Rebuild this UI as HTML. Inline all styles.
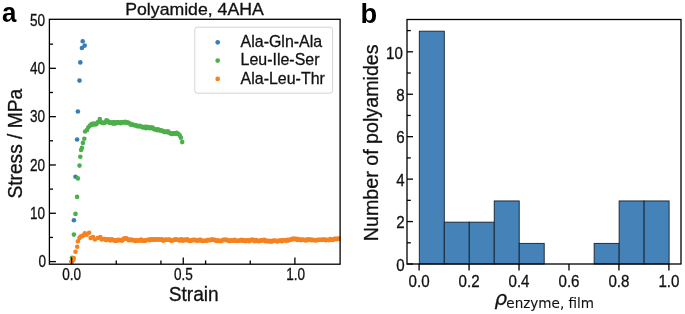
<!DOCTYPE html>
<html><head><meta charset="utf-8"><title>Figure</title><style>html,body{margin:0;padding:0;background:#fff}svg{display:block;will-change:transform}</style></head><body>
<svg width="685" height="314" viewBox="0 0 685 314" font-family="Liberation Sans, Arial, Helvetica, sans-serif">
<rect width="685" height="314" fill="#fff"/>
<clipPath id="ca"><rect x="49.4" y="19.3" width="290.70000000000005" height="244.89999999999998"/></clipPath>
<g clip-path="url(#ca)">
<g fill="#377eb8"><circle cx="71.7" cy="261.5" r="2.3"/><circle cx="73.9" cy="220.2" r="2.3"/><circle cx="75.5" cy="176.8" r="2.3"/><circle cx="77.1" cy="139.5" r="2.3"/><circle cx="77.9" cy="111.5" r="2.3"/><circle cx="79.5" cy="80.6" r="2.3"/><circle cx="80.3" cy="62.4" r="2.3"/><circle cx="81.9" cy="48.0" r="2.3"/><circle cx="82.7" cy="41.2" r="2.3"/><circle cx="84.7" cy="45.6" r="2.3"/></g>
<g fill="#4daf4a"><circle cx="71.7" cy="261.5" r="2.3"/><circle cx="72.0" cy="257.7" r="2.3"/><circle cx="73.9" cy="234.6" r="2.3"/><circle cx="75.5" cy="213.9" r="2.3"/><circle cx="77.1" cy="196.9" r="2.3"/><circle cx="77.9" cy="178.4" r="2.3"/><circle cx="79.5" cy="165.6" r="2.3"/><circle cx="80.3" cy="156.7" r="2.3"/><circle cx="81.1" cy="150.0" r="2.3"/><circle cx="81.9" cy="147.9" r="2.3"/><circle cx="82.9" cy="142.9" r="2.3"/><circle cx="84.3" cy="138.7" r="2.3"/><circle cx="85.1" cy="131.5" r="2.3"/><circle cx="87.1" cy="129.9" r="2.3"/><circle cx="88.4" cy="127.2" r="2.3"/><circle cx="90.0" cy="125.6" r="2.3"/><circle cx="91.0" cy="124.9" r="2.3"/><circle cx="92.1" cy="123.9" r="2.3"/><circle cx="93.2" cy="124.6" r="2.3"/><circle cx="94.3" cy="123.6" r="2.3"/><circle cx="95.4" cy="124.4" r="2.3"/><circle cx="96.5" cy="124.0" r="2.3"/><circle cx="97.6" cy="122.4" r="2.3"/><circle cx="98.7" cy="121.7" r="2.3"/><circle cx="99.8" cy="119.1" r="2.3"/><circle cx="100.9" cy="122.2" r="2.3"/><circle cx="102.0" cy="122.6" r="2.3"/><circle cx="103.1" cy="123.1" r="2.3"/><circle cx="104.2" cy="122.8" r="2.3"/><circle cx="105.3" cy="122.6" r="2.3"/><circle cx="106.4" cy="120.2" r="2.3"/><circle cx="107.5" cy="120.7" r="2.3"/><circle cx="108.6" cy="122.1" r="2.3"/><circle cx="109.7" cy="122.9" r="2.3"/><circle cx="110.8" cy="122.6" r="2.3"/><circle cx="111.9" cy="122.4" r="2.3"/><circle cx="113.0" cy="123.6" r="2.3"/><circle cx="114.1" cy="122.0" r="2.3"/><circle cx="115.2" cy="123.6" r="2.3"/><circle cx="116.3" cy="122.6" r="2.3"/><circle cx="117.4" cy="122.4" r="2.3"/><circle cx="118.5" cy="122.4" r="2.3"/><circle cx="119.6" cy="122.7" r="2.3"/><circle cx="120.7" cy="123.3" r="2.3"/><circle cx="121.8" cy="122.0" r="2.3"/><circle cx="122.9" cy="122.5" r="2.3"/><circle cx="124.0" cy="122.4" r="2.3"/><circle cx="125.1" cy="121.9" r="2.3"/><circle cx="126.2" cy="122.7" r="2.3"/><circle cx="127.3" cy="122.2" r="2.3"/><circle cx="128.4" cy="122.7" r="2.3"/><circle cx="129.5" cy="123.3" r="2.3"/><circle cx="130.6" cy="124.6" r="2.3"/><circle cx="131.7" cy="124.5" r="2.3"/><circle cx="132.8" cy="124.6" r="2.3"/><circle cx="133.9" cy="125.3" r="2.3"/><circle cx="135.0" cy="125.3" r="2.3"/><circle cx="136.1" cy="125.3" r="2.3"/><circle cx="137.2" cy="126.3" r="2.3"/><circle cx="138.3" cy="126.3" r="2.3"/><circle cx="139.4" cy="125.7" r="2.3"/><circle cx="140.5" cy="126.5" r="2.3"/><circle cx="141.6" cy="126.5" r="2.3"/><circle cx="142.7" cy="127.4" r="2.3"/><circle cx="143.8" cy="127.3" r="2.3"/><circle cx="144.9" cy="126.7" r="2.3"/><circle cx="146.0" cy="128.2" r="2.3"/><circle cx="147.1" cy="126.8" r="2.3"/><circle cx="148.2" cy="127.5" r="2.3"/><circle cx="149.3" cy="128.3" r="2.3"/><circle cx="150.4" cy="127.4" r="2.3"/><circle cx="151.5" cy="128.2" r="2.3"/><circle cx="152.6" cy="127.5" r="2.3"/><circle cx="153.7" cy="128.9" r="2.3"/><circle cx="154.8" cy="129.4" r="2.3"/><circle cx="155.9" cy="129.3" r="2.3"/><circle cx="157.0" cy="130.1" r="2.3"/><circle cx="158.1" cy="129.4" r="2.3"/><circle cx="159.2" cy="130.3" r="2.3"/><circle cx="160.3" cy="130.4" r="2.3"/><circle cx="161.4" cy="130.6" r="2.3"/><circle cx="162.5" cy="130.7" r="2.3"/><circle cx="163.6" cy="131.6" r="2.3"/><circle cx="164.7" cy="132.1" r="2.3"/><circle cx="165.8" cy="131.5" r="2.3"/><circle cx="166.9" cy="132.1" r="2.3"/><circle cx="168.0" cy="131.3" r="2.3"/><circle cx="169.1" cy="132.8" r="2.3"/><circle cx="170.2" cy="133.0" r="2.3"/><circle cx="171.3" cy="133.9" r="2.3"/><circle cx="172.4" cy="133.9" r="2.3"/><circle cx="173.5" cy="133.3" r="2.3"/><circle cx="174.6" cy="133.4" r="2.3"/><circle cx="175.7" cy="133.8" r="2.3"/><circle cx="176.8" cy="132.9" r="2.3"/><circle cx="177.9" cy="134.0" r="2.3"/><circle cx="178.5" cy="134.0" r="2.3"/><circle cx="179.8" cy="135.5" r="2.3"/><circle cx="180.9" cy="137.7" r="2.3"/><circle cx="182.2" cy="142.1" r="2.3"/></g>
<g fill="#f58220"><circle cx="71.7" cy="261.5" r="2.3"/><circle cx="73.4" cy="259.9" r="2.3"/><circle cx="73.7" cy="258.0" r="2.3"/><circle cx="75.5" cy="251.8" r="2.3"/><circle cx="77.2" cy="246.8" r="2.3"/><circle cx="78.0" cy="241.2" r="2.3"/><circle cx="79.5" cy="238.0" r="2.3"/><circle cx="80.5" cy="236.6" r="2.3"/><circle cx="82.4" cy="236.1" r="2.3"/><circle cx="83.5" cy="235.2" r="2.3"/><circle cx="84.8" cy="233.2" r="2.3"/><circle cx="86.7" cy="234.7" r="2.3"/><circle cx="89.1" cy="232.7" r="2.3"/><circle cx="90.6" cy="238.0" r="2.3"/><circle cx="93.0" cy="237.1" r="2.3"/><circle cx="94.9" cy="239.5" r="2.3"/><circle cx="97.8" cy="238.0" r="2.3"/><circle cx="100.2" cy="237.1" r="2.3"/><circle cx="101.6" cy="239.5" r="2.3"/><circle cx="102.6" cy="239.0" r="2.3"/><circle cx="103.7" cy="239.0" r="2.3"/><circle cx="104.8" cy="239.0" r="2.3"/><circle cx="105.9" cy="240.1" r="2.3"/><circle cx="107.0" cy="239.2" r="2.3"/><circle cx="108.1" cy="239.4" r="2.3"/><circle cx="109.2" cy="239.7" r="2.3"/><circle cx="110.3" cy="240.4" r="2.3"/><circle cx="111.4" cy="239.3" r="2.3"/><circle cx="112.5" cy="239.9" r="2.3"/><circle cx="113.6" cy="240.1" r="2.3"/><circle cx="114.7" cy="240.6" r="2.3"/><circle cx="115.8" cy="240.6" r="2.3"/><circle cx="116.9" cy="240.7" r="2.3"/><circle cx="118.0" cy="239.9" r="2.3"/><circle cx="119.1" cy="240.1" r="2.3"/><circle cx="120.2" cy="240.0" r="2.3"/><circle cx="121.3" cy="240.5" r="2.3"/><circle cx="122.4" cy="240.4" r="2.3"/><circle cx="123.5" cy="238.9" r="2.3"/><circle cx="124.6" cy="238.6" r="2.3"/><circle cx="125.7" cy="238.4" r="2.3"/><circle cx="126.8" cy="238.6" r="2.3"/><circle cx="127.9" cy="239.5" r="2.3"/><circle cx="129.0" cy="240.2" r="2.3"/><circle cx="130.1" cy="239.9" r="2.3"/><circle cx="131.2" cy="239.5" r="2.3"/><circle cx="132.3" cy="240.2" r="2.3"/><circle cx="133.4" cy="240.1" r="2.3"/><circle cx="134.5" cy="240.4" r="2.3"/><circle cx="135.6" cy="240.9" r="2.3"/><circle cx="136.7" cy="240.5" r="2.3"/><circle cx="137.8" cy="240.2" r="2.3"/><circle cx="138.9" cy="240.4" r="2.3"/><circle cx="140.0" cy="240.5" r="2.3"/><circle cx="141.1" cy="239.5" r="2.3"/><circle cx="142.2" cy="240.8" r="2.3"/><circle cx="143.3" cy="240.6" r="2.3"/><circle cx="144.4" cy="240.7" r="2.3"/><circle cx="145.5" cy="240.6" r="2.3"/><circle cx="146.6" cy="240.0" r="2.3"/><circle cx="147.7" cy="240.0" r="2.3"/><circle cx="148.8" cy="239.5" r="2.3"/><circle cx="149.9" cy="240.3" r="2.3"/><circle cx="151.0" cy="239.4" r="2.3"/><circle cx="152.1" cy="239.4" r="2.3"/><circle cx="153.2" cy="239.6" r="2.3"/><circle cx="154.3" cy="239.5" r="2.3"/><circle cx="155.4" cy="239.8" r="2.3"/><circle cx="156.5" cy="239.4" r="2.3"/><circle cx="157.6" cy="239.3" r="2.3"/><circle cx="158.7" cy="239.5" r="2.3"/><circle cx="159.8" cy="239.4" r="2.3"/><circle cx="160.9" cy="239.8" r="2.3"/><circle cx="162.0" cy="239.3" r="2.3"/><circle cx="163.1" cy="240.6" r="2.3"/><circle cx="164.2" cy="240.2" r="2.3"/><circle cx="165.3" cy="239.5" r="2.3"/><circle cx="166.4" cy="239.7" r="2.3"/><circle cx="167.5" cy="239.8" r="2.3"/><circle cx="168.6" cy="239.8" r="2.3"/><circle cx="169.7" cy="239.5" r="2.3"/><circle cx="170.8" cy="240.6" r="2.3"/><circle cx="171.9" cy="240.8" r="2.3"/><circle cx="173.0" cy="240.0" r="2.3"/><circle cx="174.1" cy="240.0" r="2.3"/><circle cx="175.2" cy="239.4" r="2.3"/><circle cx="176.3" cy="239.5" r="2.3"/><circle cx="177.4" cy="239.8" r="2.3"/><circle cx="178.5" cy="239.7" r="2.3"/><circle cx="179.6" cy="240.6" r="2.3"/><circle cx="180.7" cy="239.6" r="2.3"/><circle cx="181.8" cy="239.4" r="2.3"/><circle cx="182.9" cy="240.8" r="2.3"/><circle cx="184.0" cy="240.1" r="2.3"/><circle cx="185.1" cy="239.6" r="2.3"/><circle cx="186.2" cy="240.2" r="2.3"/><circle cx="187.3" cy="239.4" r="2.3"/><circle cx="188.4" cy="240.2" r="2.3"/><circle cx="189.5" cy="240.9" r="2.3"/><circle cx="190.6" cy="240.7" r="2.3"/><circle cx="191.7" cy="240.4" r="2.3"/><circle cx="192.8" cy="239.8" r="2.3"/><circle cx="193.9" cy="240.0" r="2.3"/><circle cx="195.0" cy="239.7" r="2.3"/><circle cx="196.1" cy="240.6" r="2.3"/><circle cx="197.2" cy="240.2" r="2.3"/><circle cx="198.3" cy="240.6" r="2.3"/><circle cx="199.4" cy="239.9" r="2.3"/><circle cx="200.5" cy="239.8" r="2.3"/><circle cx="201.6" cy="240.7" r="2.3"/><circle cx="202.7" cy="241.0" r="2.3"/><circle cx="203.8" cy="240.8" r="2.3"/><circle cx="204.9" cy="240.7" r="2.3"/><circle cx="206.0" cy="240.7" r="2.3"/><circle cx="207.1" cy="240.6" r="2.3"/><circle cx="208.2" cy="239.8" r="2.3"/><circle cx="209.3" cy="240.3" r="2.3"/><circle cx="210.4" cy="240.1" r="2.3"/><circle cx="211.5" cy="239.6" r="2.3"/><circle cx="212.6" cy="239.6" r="2.3"/><circle cx="213.7" cy="240.0" r="2.3"/><circle cx="214.8" cy="239.9" r="2.3"/><circle cx="215.9" cy="240.6" r="2.3"/><circle cx="217.0" cy="241.0" r="2.3"/><circle cx="218.1" cy="240.2" r="2.3"/><circle cx="219.2" cy="241.0" r="2.3"/><circle cx="220.3" cy="241.0" r="2.3"/><circle cx="221.4" cy="241.0" r="2.3"/><circle cx="222.5" cy="240.1" r="2.3"/><circle cx="223.6" cy="239.9" r="2.3"/><circle cx="224.7" cy="239.9" r="2.3"/><circle cx="225.8" cy="239.9" r="2.3"/><circle cx="226.9" cy="239.9" r="2.3"/><circle cx="228.0" cy="240.5" r="2.3"/><circle cx="229.1" cy="240.9" r="2.3"/><circle cx="230.2" cy="240.9" r="2.3"/><circle cx="231.3" cy="240.3" r="2.3"/><circle cx="232.4" cy="240.6" r="2.3"/><circle cx="233.5" cy="240.8" r="2.3"/><circle cx="234.6" cy="239.7" r="2.3"/><circle cx="235.7" cy="240.6" r="2.3"/><circle cx="236.8" cy="241.0" r="2.3"/><circle cx="237.9" cy="240.8" r="2.3"/><circle cx="239.0" cy="240.7" r="2.3"/><circle cx="240.1" cy="240.3" r="2.3"/><circle cx="241.2" cy="239.9" r="2.3"/><circle cx="242.3" cy="240.8" r="2.3"/><circle cx="243.4" cy="240.1" r="2.3"/><circle cx="244.5" cy="240.8" r="2.3"/><circle cx="245.6" cy="241.1" r="2.3"/><circle cx="246.7" cy="240.2" r="2.3"/><circle cx="247.8" cy="240.2" r="2.3"/><circle cx="248.9" cy="241.1" r="2.3"/><circle cx="250.0" cy="240.7" r="2.3"/><circle cx="251.1" cy="239.9" r="2.3"/><circle cx="252.2" cy="239.9" r="2.3"/><circle cx="253.3" cy="239.9" r="2.3"/><circle cx="254.4" cy="241.1" r="2.3"/><circle cx="255.5" cy="240.9" r="2.3"/><circle cx="256.6" cy="240.0" r="2.3"/><circle cx="257.7" cy="241.0" r="2.3"/><circle cx="258.8" cy="241.2" r="2.3"/><circle cx="259.9" cy="240.8" r="2.3"/><circle cx="261.0" cy="240.3" r="2.3"/><circle cx="262.1" cy="240.6" r="2.3"/><circle cx="263.2" cy="240.0" r="2.3"/><circle cx="264.3" cy="239.9" r="2.3"/><circle cx="265.4" cy="241.3" r="2.3"/><circle cx="266.5" cy="240.9" r="2.3"/><circle cx="267.6" cy="240.8" r="2.3"/><circle cx="268.7" cy="241.5" r="2.3"/><circle cx="269.8" cy="240.8" r="2.3"/><circle cx="270.9" cy="241.5" r="2.3"/><circle cx="272.0" cy="241.5" r="2.3"/><circle cx="273.1" cy="240.6" r="2.3"/><circle cx="274.2" cy="240.8" r="2.3"/><circle cx="275.3" cy="240.9" r="2.3"/><circle cx="276.4" cy="240.9" r="2.3"/><circle cx="277.5" cy="241.4" r="2.3"/><circle cx="278.6" cy="240.7" r="2.3"/><circle cx="279.7" cy="240.8" r="2.3"/><circle cx="280.8" cy="240.2" r="2.3"/><circle cx="281.9" cy="241.2" r="2.3"/><circle cx="283.0" cy="240.3" r="2.3"/><circle cx="284.1" cy="240.3" r="2.3"/><circle cx="285.2" cy="240.3" r="2.3"/><circle cx="286.3" cy="240.7" r="2.3"/><circle cx="287.4" cy="239.8" r="2.3"/><circle cx="288.5" cy="240.4" r="2.3"/><circle cx="289.6" cy="239.7" r="2.3"/><circle cx="290.7" cy="239.6" r="2.3"/><circle cx="291.8" cy="239.5" r="2.3"/><circle cx="292.9" cy="238.6" r="2.3"/><circle cx="294.0" cy="239.3" r="2.3"/><circle cx="295.1" cy="238.9" r="2.3"/><circle cx="296.2" cy="238.7" r="2.3"/><circle cx="297.3" cy="240.0" r="2.3"/><circle cx="298.4" cy="239.1" r="2.3"/><circle cx="299.5" cy="239.6" r="2.3"/><circle cx="300.6" cy="240.1" r="2.3"/><circle cx="301.7" cy="239.9" r="2.3"/><circle cx="302.8" cy="239.6" r="2.3"/><circle cx="303.9" cy="240.0" r="2.3"/><circle cx="305.0" cy="240.1" r="2.3"/><circle cx="306.1" cy="240.4" r="2.3"/><circle cx="307.2" cy="239.4" r="2.3"/><circle cx="308.3" cy="240.0" r="2.3"/><circle cx="309.4" cy="239.6" r="2.3"/><circle cx="310.5" cy="239.6" r="2.3"/><circle cx="311.6" cy="240.3" r="2.3"/><circle cx="312.7" cy="239.9" r="2.3"/><circle cx="313.8" cy="240.0" r="2.3"/><circle cx="314.9" cy="240.3" r="2.3"/><circle cx="316.0" cy="240.5" r="2.3"/><circle cx="317.1" cy="239.8" r="2.3"/><circle cx="318.2" cy="240.0" r="2.3"/><circle cx="319.3" cy="239.8" r="2.3"/><circle cx="320.4" cy="239.8" r="2.3"/><circle cx="321.5" cy="240.0" r="2.3"/><circle cx="322.6" cy="239.6" r="2.3"/><circle cx="323.7" cy="239.7" r="2.3"/><circle cx="324.8" cy="239.6" r="2.3"/><circle cx="325.9" cy="240.2" r="2.3"/><circle cx="327.0" cy="239.8" r="2.3"/><circle cx="328.1" cy="240.0" r="2.3"/><circle cx="329.2" cy="240.1" r="2.3"/><circle cx="330.3" cy="239.0" r="2.3"/><circle cx="331.4" cy="239.5" r="2.3"/><circle cx="332.5" cy="240.0" r="2.3"/><circle cx="333.6" cy="239.8" r="2.3"/><circle cx="334.7" cy="238.8" r="2.3"/><circle cx="335.8" cy="238.7" r="2.3"/><circle cx="336.9" cy="239.2" r="2.3"/><circle cx="338.0" cy="238.6" r="2.3"/><circle cx="339.1" cy="238.8" r="2.3"/><circle cx="340.2" cy="238.6" r="2.3"/></g>
</g>
<g stroke="#000" stroke-width="1.3" fill="none">
<rect x="49.4" y="19.3" width="290.70000000000005" height="244.89999999999998"/>
<line x1="49.4" y1="261.60" x2="55.9" y2="261.60"/>
<line x1="49.4" y1="237.44" x2="53.0" y2="237.44"/>
<line x1="49.4" y1="213.28" x2="55.9" y2="213.28"/>
<line x1="49.4" y1="189.12" x2="53.0" y2="189.12"/>
<line x1="49.4" y1="164.96" x2="55.9" y2="164.96"/>
<line x1="49.4" y1="140.80" x2="53.0" y2="140.80"/>
<line x1="49.4" y1="116.64" x2="55.9" y2="116.64"/>
<line x1="49.4" y1="92.48" x2="53.0" y2="92.48"/>
<line x1="49.4" y1="68.32" x2="55.9" y2="68.32"/>
<line x1="49.4" y1="44.16" x2="53.0" y2="44.16"/>
<line x1="71.60" y1="264.2" x2="71.60" y2="257.4"/>
<line x1="183.25" y1="264.2" x2="183.25" y2="257.4"/>
<line x1="294.90" y1="264.2" x2="294.90" y2="257.4"/>
<line x1="116.26" y1="264.2" x2="116.26" y2="260.4"/>
<line x1="160.92" y1="264.2" x2="160.92" y2="260.4"/>
<line x1="205.58" y1="264.2" x2="205.58" y2="260.4"/>
<line x1="250.24" y1="264.2" x2="250.24" y2="260.4"/>
</g>
<text transform="translate(46.00,267.30) scale(0.87,1)" font-size="15.6" text-anchor="end" fill="#111" stroke="#111" stroke-width="0.3" >0</text>
<text transform="translate(45.10,218.98) scale(0.87,1)" font-size="15.6" text-anchor="end" fill="#111" stroke="#111" stroke-width="0.3" >10</text>
<text transform="translate(45.10,170.66) scale(0.87,1)" font-size="15.6" text-anchor="end" fill="#111" stroke="#111" stroke-width="0.3" >20</text>
<text transform="translate(45.10,122.34) scale(0.87,1)" font-size="15.6" text-anchor="end" fill="#111" stroke="#111" stroke-width="0.3" >30</text>
<text transform="translate(45.10,74.02) scale(0.87,1)" font-size="15.6" text-anchor="end" fill="#111" stroke="#111" stroke-width="0.3" >40</text>
<text transform="translate(45.10,25.70) scale(0.87,1)" font-size="15.6" text-anchor="end" fill="#111" stroke="#111" stroke-width="0.3" >50</text>
<text transform="translate(71.70,280.00) scale(0.87,1)" font-size="15.6" text-anchor="middle" fill="#111" stroke="#111" stroke-width="0.3" >0.0</text>
<text transform="translate(183.35,280.00) scale(0.87,1)" font-size="15.6" text-anchor="middle" fill="#111" stroke="#111" stroke-width="0.3" >0.5</text>
<text transform="translate(295.60,280.00) scale(0.87,1)" font-size="15.6" text-anchor="middle" fill="#111" stroke="#111" stroke-width="0.3" >1.0</text>
<text transform="translate(193.70,300.60) scale(0.945,1)" font-size="20.3" text-anchor="middle" fill="#111" stroke="#111" stroke-width="0.3" >Strain</text>
<text transform="translate(22.3,143.7) rotate(-90) scale(0.945,1)" font-size="20.3" text-anchor="middle" fill="#111" stroke="#111" stroke-width="0.3">Stress / MPa</text>
<text x="194.5" y="14.8" font-size="16.4" text-anchor="middle" fill="#111" stroke="#111" stroke-width="0.3" textLength="138.5" lengthAdjust="spacingAndGlyphs">Polyamide, 4AHA</text>
<text transform="translate(1.9,22.3) scale(0.96,1)" font-size="27" font-weight="bold" fill="#000">a</text>
<text x="360.4" y="22.6" font-size="27.3" font-weight="bold" fill="#000">b</text>
<rect x="194.8" y="27.2" width="137.8" height="66" rx="2.5" ry="2.5" fill="#fff" fill-opacity="0.8" stroke="#d4d4d4" stroke-width="1"/>
<circle cx="217.7" cy="42.3" r="2.35" fill="#377eb8"/>
<text transform="translate(240.60,47.10) scale(0.95,1)" font-size="16.8" text-anchor="start" fill="#111" stroke="#111" stroke-width="0.3" >Ala-Gln-Ala</text>
<circle cx="217.7" cy="60.6" r="2.35" fill="#4daf4a"/>
<text transform="translate(240.60,65.40) scale(0.95,1)" font-size="16.8" text-anchor="start" fill="#111" stroke="#111" stroke-width="0.3" >Leu-Ile-Ser</text>
<circle cx="217.7" cy="78.9" r="2.35" fill="#f58220"/>
<text transform="translate(240.60,83.70) scale(0.95,1)" font-size="16.8" text-anchor="start" fill="#111" stroke="#111" stroke-width="0.3" >Ala-Leu-Thr</text>
<g fill="#4482b8" stroke="#14202e" stroke-width="0.9">
<rect x="419.30" y="31.18" width="24.98" height="232.82"/>
<rect x="444.28" y="222.16" width="24.98" height="41.84"/>
<rect x="469.26" y="222.16" width="24.98" height="41.84"/>
<rect x="494.24" y="200.94" width="24.98" height="63.06"/>
<rect x="519.22" y="243.38" width="24.98" height="20.62"/>
<rect x="594.16" y="243.38" width="24.98" height="20.62"/>
<rect x="619.14" y="200.94" width="24.98" height="63.06"/>
<rect x="644.12" y="200.94" width="24.98" height="63.06"/>
</g>
<g stroke="#000" stroke-width="1.3" fill="none">
<rect x="407.0" y="19.5" width="274.0" height="244.5"/>
<line x1="407.0" y1="264.00" x2="413.0" y2="264.00"/>
<line x1="407.0" y1="242.78" x2="410.8" y2="242.78"/>
<line x1="407.0" y1="221.56" x2="413.0" y2="221.56"/>
<line x1="407.0" y1="200.34" x2="410.8" y2="200.34"/>
<line x1="407.0" y1="179.12" x2="413.0" y2="179.12"/>
<line x1="407.0" y1="157.90" x2="410.8" y2="157.90"/>
<line x1="407.0" y1="136.68" x2="413.0" y2="136.68"/>
<line x1="407.0" y1="115.46" x2="410.8" y2="115.46"/>
<line x1="407.0" y1="94.24" x2="413.0" y2="94.24"/>
<line x1="407.0" y1="73.02" x2="410.8" y2="73.02"/>
<line x1="407.0" y1="51.80" x2="413.0" y2="51.80"/>
<line x1="407.0" y1="30.58" x2="410.8" y2="30.58"/>
<line x1="419.10" y1="264.0" x2="419.10" y2="270.6"/>
<line x1="469.06" y1="264.0" x2="469.06" y2="270.6"/>
<line x1="519.02" y1="264.0" x2="519.02" y2="270.6"/>
<line x1="568.98" y1="264.0" x2="568.98" y2="270.6"/>
<line x1="618.94" y1="264.0" x2="618.94" y2="270.6"/>
<line x1="668.90" y1="264.0" x2="668.90" y2="270.6"/>
</g>
<text transform="translate(404.60,270.80) scale(0.87,1)" font-size="17.4" text-anchor="end" fill="#111" stroke="#111" stroke-width="0.3" >0</text>
<text transform="translate(404.60,228.36) scale(0.87,1)" font-size="17.4" text-anchor="end" fill="#111" stroke="#111" stroke-width="0.3" >2</text>
<text transform="translate(404.60,185.92) scale(0.87,1)" font-size="17.4" text-anchor="end" fill="#111" stroke="#111" stroke-width="0.3" >4</text>
<text transform="translate(404.60,143.48) scale(0.87,1)" font-size="17.4" text-anchor="end" fill="#111" stroke="#111" stroke-width="0.3" >6</text>
<text transform="translate(404.60,101.04) scale(0.87,1)" font-size="17.4" text-anchor="end" fill="#111" stroke="#111" stroke-width="0.3" >8</text>
<text transform="translate(402.90,58.60) scale(0.87,1)" font-size="17.4" text-anchor="end" fill="#111" stroke="#111" stroke-width="0.3" >10</text>
<text transform="translate(419.10,286.80) scale(0.87,1)" font-size="17.4" text-anchor="middle" fill="#111" stroke="#111" stroke-width="0.3" >0.0</text>
<text transform="translate(469.06,286.80) scale(0.87,1)" font-size="17.4" text-anchor="middle" fill="#111" stroke="#111" stroke-width="0.3" >0.2</text>
<text transform="translate(519.02,286.80) scale(0.87,1)" font-size="17.4" text-anchor="middle" fill="#111" stroke="#111" stroke-width="0.3" >0.4</text>
<text transform="translate(568.98,286.80) scale(0.87,1)" font-size="17.4" text-anchor="middle" fill="#111" stroke="#111" stroke-width="0.3" >0.6</text>
<text transform="translate(618.94,286.80) scale(0.87,1)" font-size="17.4" text-anchor="middle" fill="#111" stroke="#111" stroke-width="0.3" >0.8</text>
<text transform="translate(668.90,286.80) scale(0.87,1)" font-size="17.4" text-anchor="middle" fill="#111" stroke="#111" stroke-width="0.3" >1.0</text>
<text transform="translate(377.7,142.8) rotate(-90) scale(0.97,1)" font-size="20.3" text-anchor="middle" fill="#111" stroke="#111" stroke-width="0.3">Number of polyamides</text>
<text transform="translate(494.60,305.30) scale(1.0,1)" font-size="19.9" text-anchor="start" fill="#111" stroke="#111" stroke-width="0.3" font-family="DejaVu Sans, sans-serif" font-style="italic">ρ</text>
<text transform="translate(506.30,308.40) scale(0.91,1)" font-size="14.9" text-anchor="start" fill="#111" stroke="#111" stroke-width="0.1" font-family="DejaVu Sans, sans-serif">enzyme, film</text>
</svg>
</body></html>
